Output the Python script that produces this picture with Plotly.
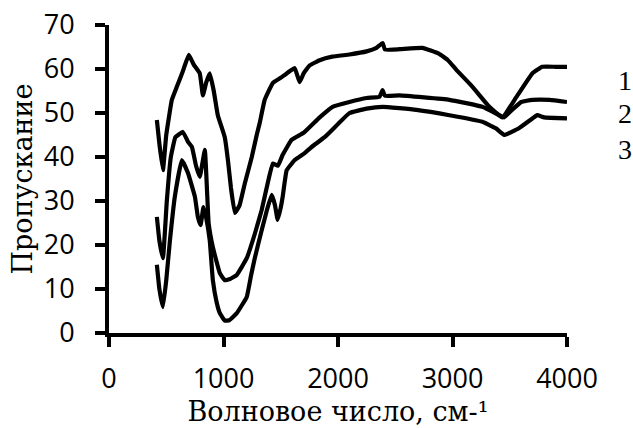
import plotly.graph_objects as go

# Curve 1
x1 = [418, 440, 471, 500, 549, 593, 645, 697, 740, 793, 820, 850, 880, 915, 950, 1011, 1040, 1065, 1099,
      1140, 1186, 1247, 1290, 1316, 1360, 1430, 1500, 1552, 1622, 1665, 1700, 1752, 1840, 1950, 2100,
      2250, 2336, 2390, 2410, 2540, 2737, 2880, 2960, 3034, 3173, 3322, 3435, 3557, 3697, 3784, 3900, 4000]
y1 = [48.4, 43, 37, 45, 53, 56, 59.5, 63.2, 61, 59, 54, 57, 59, 55, 49.5, 44.5, 39, 33, 27.3,
      29, 34, 40, 45, 47.7, 53, 56.8, 58, 59, 60.2, 57, 59, 60.8, 62, 62.8, 63.3,
      64, 64.8, 65.9, 64.4, 64.5, 64.8, 63.5, 62, 59.8, 56, 51.4, 49, 53.6, 59, 60.5, 60.5, 60.5]

# Curve 2
x2 = [418, 440, 471, 505, 540, 580, 645, 689, 724, 760, 793, 837, 855, 870, 907, 968, 1011, 1060, 1116,
      1203, 1273, 1334, 1377, 1430, 1475, 1517, 1595, 1700, 1840, 1953, 2100, 2250, 2363, 2389, 2410,
      2537, 2973, 3261, 3409, 3450, 3520, 3600, 3697, 3850, 4000]
y2 = [26.4, 21, 17, 30, 40, 44.5, 45.7, 43.5, 42.3, 38, 35.5, 41.6, 33, 25, 19.5, 13.6, 12, 12.3, 13.2,
      17, 22.5, 28, 33, 38.5, 38, 40.5, 43.9, 45.5, 49, 51.4, 52.5, 53.4, 53.7, 55.2, 53.9,
      54, 53, 51.4, 49.5, 49, 50.7, 52.5, 53, 53, 52.5]

# Curve 3
x3 = [418, 440, 471, 500, 532, 575, 636, 689, 750, 776, 800, 825, 850, 880, 907, 940, 968, 1011, 1050,
      1116, 1203, 1240, 1273, 1334, 1380, 1421, 1450, 1473, 1500, 1517, 1552, 1622, 1709, 1780, 1883,
      2000, 2101, 2250, 2389, 2685, 2973, 3261, 3380, 3452, 3583, 3700, 3740, 3800, 4000]
y3 = [15.5, 10, 5.9, 12, 21, 31, 39.3, 36.4, 31, 26.4, 24.5, 28.6, 26, 21, 12, 7, 4.5, 2.8, 2.9,
      4.5, 8.2, 13, 17, 23.4, 28, 31.4, 29, 25.7, 28.5, 31, 37, 39.3, 40.9, 42.5, 44.5,
      47.5, 50, 51, 51.4, 50.7, 49.5, 48, 46.5, 45, 46.6, 48.8, 49.5, 49, 48.8]

labels = ["1", "2", "3"]
label_y = [57.5, 49.8, 41.6]

x_ticks = [0, 1000, 2000, 3000, 4000]
y_ticks = [0, 10, 20, 30, 40, 50, 60, 70]

fig = go.Figure()
for xs, ys in [(x1, y1), (x2, y2), (x3, y3)]:
    fig.add_trace(go.Scatter(x=xs, y=ys, mode="lines",
                             line=dict(color="black", width=4.2, shape="spline", smoothing=0.3),
                             showlegend=False, hoverinfo="skip"))

for t, yy in zip(labels, label_y):
    fig.add_annotation(x=1.127, y=yy, xref="paper", yref="y", text=t, showarrow=False,
                       font=dict(family="Liberation Serif", size=28, color="black"),
                       xanchor="center", yanchor="middle")

fig.update_layout(
    width=633, height=428,
    margin=dict(l=109, r=66, t=25, b=95, autoexpand=False),
    paper_bgcolor="white", plot_bgcolor="white",
    showlegend=False,
)
fig.update_xaxes(range=[0, 4000], tickvals=x_ticks, ticktext=[str(v) for v in x_ticks],
                 showline=True, linecolor="black", linewidth=4,
                 ticks="outside", ticklen=10, tickwidth=4, tickcolor="black",
                 showgrid=False, zeroline=False, automargin=False,
                 tickfont=dict(family="Open Sans", size=27, color="black"),
                 ticklabelstandoff=9,
                 title=dict(text="Волновое число, см-¹",
                            font=dict(family="DejaVu Serif", size=27, color="black"),
                            standoff=2))
fig.update_yaxes(range=[0, 70], tickvals=y_ticks, ticktext=[str(v) for v in y_ticks],
                 showline=True, linecolor="black", linewidth=4,
                 ticks="outside", ticklen=10, tickwidth=4, tickcolor="black",
                 showgrid=False, zeroline=False, automargin=False,
                 tickfont=dict(family="Open Sans", size=27, color="black"),
                 ticklabelstandoff=15,
                 title=dict(text="Пропускание",
                            font=dict(family="DejaVu Serif", size=27, color="black"),
                            standoff=4))

fig.write_html("out.html")
